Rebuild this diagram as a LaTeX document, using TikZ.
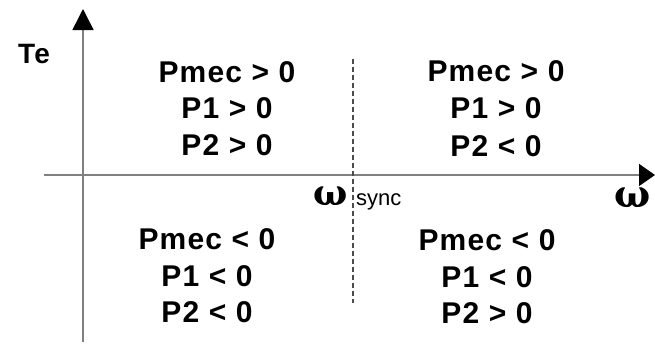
\documentclass[tikz,border=0pt]{standalone}
\usepackage{fontspec}
\setmainfont{Liberation Sans}
\newfontfamily\lblfont[LetterSpace=4]{Liberation Sans}
\newfontfamily\omfont{DejaVu Serif}
\usetikzlibrary{arrows.meta}
\tikzset{
  axisline/.style={draw=black!50, line width=1.5pt},
  sep/.style={draw=black!70, line width=1.2pt, dash pattern=on 5pt off 3pt},
  cond/.style={anchor=base, inner sep=0pt, font=\lblfont\fontsize{30}{32}\selectfont\bfseries},
  omega/.style={anchor=base, inner sep=0pt},
}
\begin{document}
\begin{tikzpicture}[x=1pt,y=-1pt]
\useasboundingbox (0,0) rectangle (655,343);
% axes
\coordinate (ybot) at (83,342);
\coordinate (ytop) at (83,9);
\coordinate (xleft) at (44,175);
\coordinate (xright) at (655,175);
\coordinate (dtop) at (353,59);
\coordinate (dbot) at (353,303);
\draw[axisline,-{Triangle[length=21pt,width=21pt,black]}] (ybot) -- (ytop);
\draw[axisline,-{Triangle[length=16pt,width=22pt,black]}] (xleft) -- (xright);
\draw[sep] (dtop) -- (dbot);
% axis labels
\node[cond, font=\lblfont\fontsize{28}{30}\selectfont\bfseries] (te) at (34,63) {Te};
\node[omega, font=\omfont\fontsize{36}{38}\selectfont\bfseries] (wsync) at (331,205) {ω};
\node[anchor=base west, inner sep=0pt, font=\fontsize{22}{24}\selectfont] (sync) at (356,205) {sync};
\node[omega, font=\omfont\fontsize{38}{40}\selectfont\bfseries] (w) at (633,207) {ω};
% upper left
\node[cond] (a1) at (227,82) {Pmec > 0};
\node[cond] (a2) at (227,118) {P1 > 0};
\node[cond] (a3) at (227,155) {P2 > 0};
% upper right
\node[cond] (b1) at (496,81) {Pmec > 0};
\node[cond] (b2) at (496,118) {P1 > 0};
\node[cond] (b3) at (496,156) {P2 < 0};
% lower left
\node[cond] (c1) at (207,249) {Pmec < 0};
\node[cond] (c2) at (207,286) {P1 < 0};
\node[cond] (c3) at (207,322) {P2 < 0};
% lower right
\node[cond] (d1) at (487,250) {Pmec < 0};
\node[cond] (d2) at (487,287) {P1 < 0};
\node[cond] (d3) at (487,323) {P2 > 0};
\end{tikzpicture}
\end{document}
